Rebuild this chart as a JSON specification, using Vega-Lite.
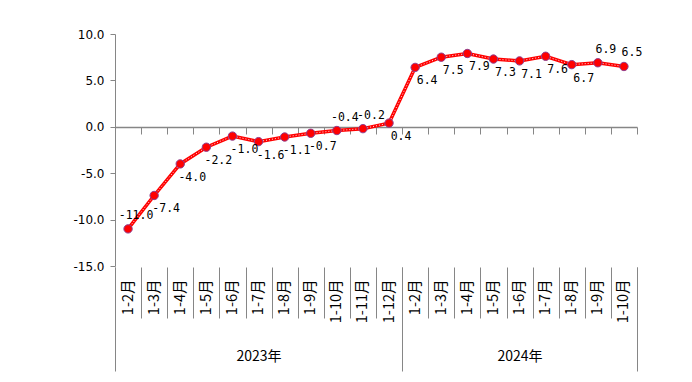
{
  "$schema": "https://vega.github.io/schema/vega-lite/v6.json",
  "width": 522,
  "height": 232,
  "autosize": "none",
  "padding": {"left": 115, "top": 34, "right": 55, "bottom": 116},
  "background": "white",
  "config": {
    "view": {"stroke": null},
    "locale": {"number": {"decimal": ".", "thousands": ",", "grouping": [3], "currency": ["", ""], "minus": "-"}}
  },
  "data": {"values": [
    {"period": "2023年1-2月", "value": -11.0},
    {"period": "2023年1-3月", "value": -7.4},
    {"period": "2023年1-4月", "value": -4.0},
    {"period": "2023年1-5月", "value": -2.2},
    {"period": "2023年1-6月", "value": -1.0},
    {"period": "2023年1-7月", "value": -1.6},
    {"period": "2023年1-8月", "value": -1.1},
    {"period": "2023年1-9月", "value": -0.7},
    {"period": "2023年1-10月", "value": -0.4},
    {"period": "2023年1-11月", "value": -0.2},
    {"period": "2023年1-12月", "value": 0.4},
    {"period": "2024年1-2月", "value": 6.4},
    {"period": "2024年1-3月", "value": 7.5},
    {"period": "2024年1-4月", "value": 7.9},
    {"period": "2024年1-5月", "value": 7.3},
    {"period": "2024年1-6月", "value": 7.1},
    {"period": "2024年1-7月", "value": 7.6},
    {"period": "2024年1-8月", "value": 6.7},
    {"period": "2024年1-9月", "value": 6.9},
    {"period": "2024年1-10月", "value": 6.5}
  ]},
  "encoding": {
    "y": {
      "field": "value", "type": "quantitative",
      "scale": {"domain": [-15, 10], "nice": false, "zero": false},
      "axis": {
        "values": [-15, -10, -5, 0, 5, 10], "format": ".1f", "title": null, "grid": false,
        "domainColor": "#868686", "tickColor": "#868686", "tickSize": 5, "labelPadding": 6,
        "labelFont": "DejaVu Sans", "labelFontSize": 12, "labelColor": "#000000"
      }
    }
  },
  "layer": [
    {
      "encoding": {
        "x": {
          "field": "period", "type": "nominal", "sort": null,
          "scale": {"type": "band", "paddingInner": 0, "paddingOuter": 0},
          "axis": {
            "orient": "bottom", "title": null, "domain": false, "offset": 1,
            "tickBand": "extent", "tickSize": 51, "tickColor": "#868686",
            "labelAngle": -90, "labelPadding": -39, "labelOverlap": false, "labelBound": false,
            "labelExpr": "slice(datum.label, 5)",
            "labelFont": "Noto Sans CJK SC", "labelFontSize": 14.5, "labelColor": "#000000"
          }
        }
      },
      "layer": [
        {"mark": {"type": "line", "color": "#ff0000", "strokeWidth": 3.5}},
        {"mark": {"type": "line", "color": "#ffffff", "strokeWidth": 1, "strokeDash": [1, 2], "opacity": 0.9}}
      ]
    },
    {
      "mark": {"type": "circle", "size": 70, "fill": "#ff0000", "stroke": "#8e3e8e", "strokeWidth": 1, "opacity": 1},
      "encoding": {
        "x": {
          "field": "period", "type": "nominal", "sort": null,
          "scale": {"type": "band", "paddingInner": 0, "paddingOuter": 0},
          "axis": {
            "orient": "bottom", "title": null, "offset": -139, "labels": false,
            "domainColor": "#868686", "domainWidth": 1.5,
            "tickBand": "extent", "tickSize": 7, "tickColor": "#868686"
          }
        }
      }
    },
    {
      "encoding": {
        "x": {
          "field": "period", "type": "nominal", "sort": null,
          "scale": {"type": "band", "paddingInner": 0, "paddingOuter": 0},
          "axis": {
            "orient": "bottom", "title": null, "domain": false, "offset": 1,
            "values": ["2023年1-2月", "2023年1-7月", "2023年1-12月", "2024年1-6月", "2024年1-10月"],
            "tickBand": "extent", "tickSize": 104, "tickColor": "#868686",
            "tickOpacity": {"condition": {"test": "indexof(['2023年1-2月','2023年1-7月','2024年1-6月'], datum.value) >= 0", "value": 0}, "value": 1},
            "labelAngle": 0, "labelAlign": "center", "labelBaseline": "top", "labelPadding": -22,
            "labelOverlap": false, "labelBound": false,
            "labelExpr": "datum.value == '2023年1-7月' || datum.value == '2024年1-6月' ? slice(datum.value, 0, 5) : ''",
            "labelFont": "Noto Sans CJK SC", "labelFontSize": 14, "labelColor": "#000000"
          }
        }
      },
      "layer": [
        {
          "mark": {"type": "text", "font": "DejaVu Sans Mono", "fontSize": 11.5, "color": "#000000", "align": "center", "baseline": "middle", "dx": 12, "dy": 14},
          "encoding": {
            "text": {"condition": {"test": "indexof(['2023年1-2月','2023年1-10月','2023年1-11月','2024年1-9月','2024年1-10月'], datum.period) < 0", "field": "value", "type": "quantitative", "format": ".1f"}, "value": ""}
          }
        },
        {
          "mark": {"type": "text", "font": "DejaVu Sans Mono", "fontSize": 11.5, "color": "#000000", "align": "center", "baseline": "middle", "dx": 8, "dy": -13},
          "encoding": {
            "text": {"condition": {"test": "indexof(['2023年1-2月','2023年1-10月','2023年1-11月','2024年1-9月','2024年1-10月'], datum.period) >= 0", "field": "value", "type": "quantitative", "format": ".1f"}, "value": ""}
          }
        }
      ]
    }
  ],
  "resolve": {"scale": {"x": "independent"}, "axis": {"x": "independent"}}
}
